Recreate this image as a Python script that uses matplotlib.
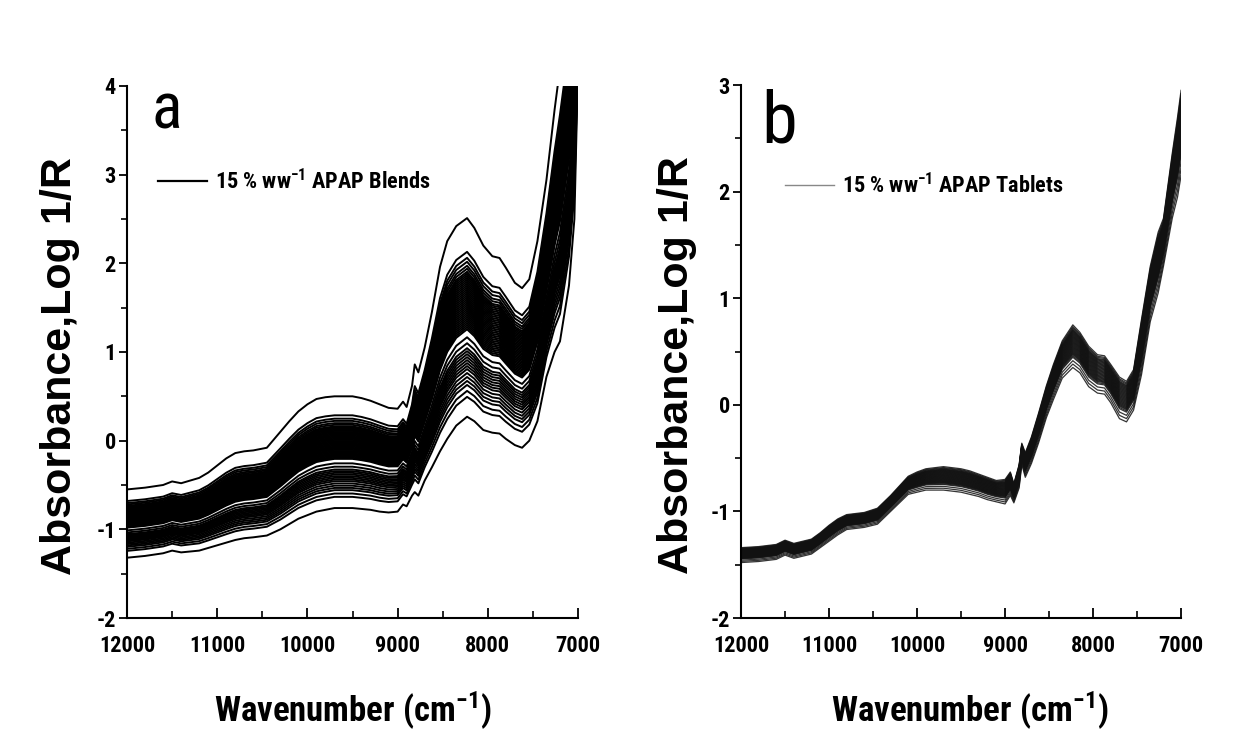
import numpy as np
import matplotlib
matplotlib.use('Agg')
import matplotlib.pyplot as plt
from matplotlib.ticker import MultipleLocator
from matplotlib.lines import Line2D

# fuentes: la figura original usa una Arial comprimida
NARROW = ['Roboto Condensed', 'Liberation Sans', 'DejaVu Sans']
WIDE = ['Liberation Sans', 'DejaVu Sans']
plt.rcParams['mathtext.default'] = 'regular'
plt.rcParams['axes.unicode_minus'] = False

# numeros de onda (cm-1) donde se leyeron los espectros
wavenumber = [12000, 11800, 11600, 11500, 11400, 11200,
              11100, 11000, 10900, 10800, 10700, 10600,
              10450, 10300, 10200, 10100, 10000, 9900,
              9800, 9700, 9600, 9500, 9400, 9300,
              9200, 9100, 9000, 8940, 8900, 8840,
              8810, 8770, 8700, 8620, 8530, 8450,
              8350, 8230, 8150, 8050, 7950, 7870,
              7800, 7700, 7620, 7540, 7450, 7350,
              7260, 7200, 7100, 7040, 7000]

# (a) mezclas: espectro superior e inferior del haz
blend_top = [-0.55, -0.53, -0.50, -0.46, -0.48, -0.42,
             -0.36, -0.28, -0.20, -0.14, -0.12, -0.11,
             -0.08, 0.10, 0.22, 0.33, 0.41, 0.47,
             0.49, 0.50, 0.50, 0.50, 0.48, 0.45,
             0.41, 0.37, 0.36, 0.44, 0.38, 0.62,
             0.86, 0.77, 1.05, 1.45, 1.96, 2.25,
             2.42, 2.51, 2.40, 2.20, 2.08, 2.06,
             1.95, 1.78, 1.72, 1.82, 2.25, 2.94,
             3.73, 4.20, 5.00, 5.30, 5.50]
blend_bottom = [-1.32, -1.30, -1.27, -1.24, -1.26, -1.24,
                -1.21, -1.18, -1.15, -1.12, -1.10, -1.09,
                -1.07, -1.00, -0.94, -0.88, -0.84, -0.80,
                -0.78, -0.76, -0.76, -0.76, -0.77, -0.78,
                -0.80, -0.81, -0.80, -0.72, -0.74, -0.62,
                -0.58, -0.62, -0.45, -0.30, -0.12, 0.02,
                0.17, 0.27, 0.22, 0.12, 0.09, 0.08,
                0.02, -0.05, -0.08, 0.00, 0.22, 0.72,
                1.00, 1.12, 1.75, 2.50, 4.20]
# posicion relativa de cada espectro dentro del haz (0 = inferior, 1 = superior)
blend_pos = [1.0, 0.83, 0.80, 0.78, 0.76, 0.745, 0.73, 0.72, 0.71, 0.70, 0.69, 0.68,
             0.67, 0.66, 0.65, 0.64, 0.63, 0.62, 0.61, 0.60, 0.59, 0.58, 0.57, 0.56,
             0.55, 0.54, 0.53, 0.52, 0.51, 0.50, 0.49, 0.48, 0.47, 0.46, 0.45, 0.44,
             0.40, 0.37, 0.345, 0.33, 0.315, 0.30, 0.285, 0.27, 0.255, 0.24, 0.22,
             0.20, 0.18, 0.16, 0.13, 0.10, 0.0]

# (b) tabletas
tablet_top = [-1.34, -1.33, -1.31, -1.27, -1.30, -1.26,
              -1.20, -1.13, -1.07, -1.03, -1.02, -1.01,
              -0.97, -0.85, -0.76, -0.67, -0.63, -0.60,
              -0.59, -0.58, -0.59, -0.60, -0.62, -0.65,
              -0.68, -0.71, -0.70, -0.63, -0.74, -0.56,
              -0.36, -0.45, -0.30, -0.08, 0.18, 0.38,
              0.60, 0.75, 0.68, 0.55, 0.47, 0.46,
              0.38, 0.26, 0.22, 0.33, 0.80, 1.30,
              1.62, 1.75, 2.36, 2.70, 2.95]
tablet_bottom = [-1.48, -1.47, -1.45, -1.41, -1.44, -1.40,
                 -1.34, -1.28, -1.22, -1.17, -1.16, -1.15,
                 -1.12, -1.00, -0.92, -0.84, -0.82, -0.80,
                 -0.80, -0.80, -0.81, -0.82, -0.84, -0.86,
                 -0.89, -0.91, -0.93, -0.85, -0.92, -0.78,
                 -0.56, -0.68, -0.55, -0.36, -0.12, 0.05,
                 0.25, 0.35, 0.30, 0.17, 0.11, 0.10,
                 0.02, -0.13, -0.16, -0.05, 0.28, 0.78,
                 1.05, 1.30, 1.75, 1.95, 2.15]
tablet_pos = [1.0, 0.96, 0.93, 0.90, 0.88, 0.86, 0.84, 0.82, 0.80, 0.78, 0.76, 0.74,
              0.72, 0.70, 0.68, 0.66, 0.64, 0.62, 0.60, 0.58, 0.56, 0.54, 0.52, 0.50,
              0.48, 0.46, 0.44, 0.42, 0.40, 0.38, 0.36, 0.34, 0.32, 0.30, 0.27, 0.24,
              0.16, 0.08, 0.0]

x_ticks = [12000, 11000, 10000, 9000, 8000, 7000]


def style_axes(ax, ymin, ymax, label_x, xlabel_x):
    ax.set_xlim(12000, 7000)
    ax.set_ylim(ymin, ymax)
    for side in ['top', 'right']:
        ax.spines[side].set_visible(False)
    for side in ['left', 'bottom']:
        ax.spines[side].set_linewidth(1.5)
    ax.set_xticks(x_ticks)
    ax.xaxis.set_minor_locator(MultipleLocator(500))
    ax.yaxis.set_major_locator(MultipleLocator(1))
    ax.yaxis.set_minor_locator(MultipleLocator(0.5))
    ax.tick_params(axis='x', which='major', direction='in', length=7, width=1.3, pad=12)
    ax.tick_params(axis='x', which='minor', direction='in', length=5, width=1.2)
    ax.tick_params(axis='y', which='major', direction='out', length=6, width=1.3, pad=2)
    ax.tick_params(axis='y', which='minor', direction='out', length=4, width=1.2)
    for lab in ax.get_xticklabels() + ax.get_yticklabels():
        lab.set_family(NARROW)
        lab.set_fontweight('bold')
        lab.set_fontsize(16)
    ax.set_ylabel('Absorbance,Log 1/R', family=WIDE, fontweight='bold', fontsize=31)
    ax.yaxis.set_label_coords(label_x, 0.474)
    ax.text(xlabel_x, -0.195, 'Wavenumber (cm$^{-1}$)', transform=ax.transAxes,
            ha='center', va='baseline', family=NARROW, fontweight='bold', fontsize=25)


def draw_band(ax, top, bottom, positions, lw, color, alpha):
    top = np.array(top)
    bottom = np.array(bottom)
    for p in positions:
        ax.plot(wavenumber, bottom + p * (top - bottom), color=color, lw=lw, alpha=alpha)


fig = plt.figure(figsize=(12.59, 7.38), dpi=100)
ax_a = fig.add_axes([0.1009, 0.1626, 0.3582, 0.7209])
ax_b = fig.add_axes([0.5886, 0.1626, 0.3495, 0.7222])

# panel a
draw_band(ax_a, blend_top, blend_bottom, blend_pos, 1.4, 'black', 1.0)
style_axes(ax_a, -2, 4, -0.104, 0.5)
ax_a.text(0.055, 0.921, 'a', transform=ax_a.transAxes, ha='left', va='baseline',
          family=NARROW, fontsize=46)
h_a = Line2D([], [], color='black', lw=1.6)
ax_a.legend([h_a], ['15 % ww$^{-1}$ APAP Blends'], loc='center left',
            bbox_to_anchor=(0.024, 0.821), frameon=False, handlelength=2.2,
            handletextpad=0.35, prop={'family': NARROW, 'weight': 'bold', 'size': 16})

# panel b
draw_band(ax_b, tablet_top, tablet_bottom, tablet_pos, 0.9, '#111111', 0.85)
style_axes(ax_b, -2, 3, -0.10, 0.52)
ax_b.text(0.045, 0.893, 'b', transform=ax_b.transAxes, ha='left', va='baseline',
          family=NARROW, fontsize=52)
h_b = Line2D([], [], color='#888888', lw=1.0)
ax_b.legend([h_b], ['15 % ww$^{-1}$ APAP Tablets'], loc='center left',
            bbox_to_anchor=(0.055, 0.812), frameon=False, handlelength=2.2,
            handletextpad=0.35, prop={'family': NARROW, 'weight': 'bold', 'size': 16})

fig.savefig('out.png', dpi=100)
